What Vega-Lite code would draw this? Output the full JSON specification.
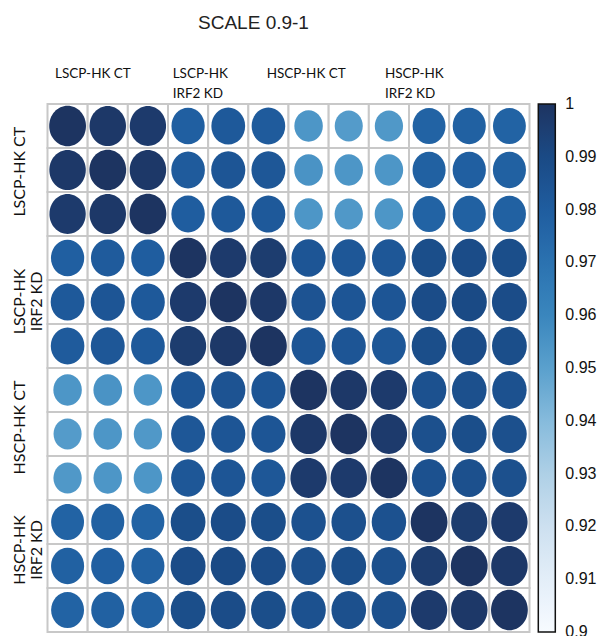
{
  "$schema": "https://vega.github.io/schema/vega-lite/v6.json",
  "width": 482,
  "height": 528,
  "autosize": {"type": "none"},
  "padding": {"left": 47.5, "top": 104, "right": 70.5, "bottom": 4},
  "background": "white",
  "title": {
    "text": "SCALE 0.9-1",
    "font": "Liberation Sans",
    "fontSize": 19,
    "fontWeight": "normal",
    "color": "#222222",
    "anchor": "middle",
    "frame": "group",
    "dx": -35,
    "offset": 34
  },
  "data": {
    "values": [
      {"r": "A1", "c": "A1", "v": 1}, {"r": "A1", "c": "A2", "v": 0.998}, {"r": "A1", "c": "A3", "v": 0.997},
      {"r": "A1", "c": "B1", "v": 0.979}, {"r": "A1", "c": "B2", "v": 0.982}, {"r": "A1", "c": "B3", "v": 0.981},
      {"r": "A1", "c": "C1", "v": 0.954}, {"r": "A1", "c": "C2", "v": 0.952}, {"r": "A1", "c": "C3", "v": 0.953},
      {"r": "A1", "c": "D1", "v": 0.977}, {"r": "A1", "c": "D2", "v": 0.978}, {"r": "A1", "c": "D3", "v": 0.977},

      {"r": "A2", "c": "A1", "v": 0.998}, {"r": "A2", "c": "A2", "v": 1}, {"r": "A2", "c": "A3", "v": 0.998},
      {"r": "A2", "c": "B1", "v": 0.981}, {"r": "A2", "c": "B2", "v": 0.984}, {"r": "A2", "c": "B3", "v": 0.983},
      {"r": "A2", "c": "C1", "v": 0.955}, {"r": "A2", "c": "C2", "v": 0.954}, {"r": "A2", "c": "C3", "v": 0.954},
      {"r": "A2", "c": "D1", "v": 0.978}, {"r": "A2", "c": "D2", "v": 0.979}, {"r": "A2", "c": "D3", "v": 0.978},

      {"r": "A3", "c": "A1", "v": 0.997}, {"r": "A3", "c": "A2", "v": 0.998}, {"r": "A3", "c": "A3", "v": 1},
      {"r": "A3", "c": "B1", "v": 0.980}, {"r": "A3", "c": "B2", "v": 0.982}, {"r": "A3", "c": "B3", "v": 0.982},
      {"r": "A3", "c": "C1", "v": 0.954}, {"r": "A3", "c": "C2", "v": 0.953}, {"r": "A3", "c": "C3", "v": 0.954},
      {"r": "A3", "c": "D1", "v": 0.977}, {"r": "A3", "c": "D2", "v": 0.978}, {"r": "A3", "c": "D3", "v": 0.978},

      {"r": "B1", "c": "A1", "v": 0.979}, {"r": "B1", "c": "A2", "v": 0.981}, {"r": "B1", "c": "A3", "v": 0.980},
      {"r": "B1", "c": "B1", "v": 1}, {"r": "B1", "c": "B2", "v": 0.997}, {"r": "B1", "c": "B3", "v": 0.996},
      {"r": "B1", "c": "C1", "v": 0.984}, {"r": "B1", "c": "C2", "v": 0.983}, {"r": "B1", "c": "C3", "v": 0.983},
      {"r": "B1", "c": "D1", "v": 0.988}, {"r": "B1", "c": "D2", "v": 0.989}, {"r": "B1", "c": "D3", "v": 0.988},

      {"r": "B2", "c": "A1", "v": 0.982}, {"r": "B2", "c": "A2", "v": 0.984}, {"r": "B2", "c": "A3", "v": 0.982},
      {"r": "B2", "c": "B1", "v": 0.997}, {"r": "B2", "c": "B2", "v": 1}, {"r": "B2", "c": "B3", "v": 0.998},
      {"r": "B2", "c": "C1", "v": 0.985}, {"r": "B2", "c": "C2", "v": 0.984}, {"r": "B2", "c": "C3", "v": 0.984},
      {"r": "B2", "c": "D1", "v": 0.989}, {"r": "B2", "c": "D2", "v": 0.990}, {"r": "B2", "c": "D3", "v": 0.989},

      {"r": "B3", "c": "A1", "v": 0.981}, {"r": "B3", "c": "A2", "v": 0.983}, {"r": "B3", "c": "A3", "v": 0.982},
      {"r": "B3", "c": "B1", "v": 0.996}, {"r": "B3", "c": "B2", "v": 0.998}, {"r": "B3", "c": "B3", "v": 1},
      {"r": "B3", "c": "C1", "v": 0.984}, {"r": "B3", "c": "C2", "v": 0.984}, {"r": "B3", "c": "C3", "v": 0.983},
      {"r": "B3", "c": "D1", "v": 0.988}, {"r": "B3", "c": "D2", "v": 0.989}, {"r": "B3", "c": "D3", "v": 0.988},

      {"r": "C1", "c": "A1", "v": 0.954}, {"r": "C1", "c": "A2", "v": 0.955}, {"r": "C1", "c": "A3", "v": 0.954},
      {"r": "C1", "c": "B1", "v": 0.984}, {"r": "C1", "c": "B2", "v": 0.985}, {"r": "C1", "c": "B3", "v": 0.984},
      {"r": "C1", "c": "C1", "v": 1}, {"r": "C1", "c": "C2", "v": 0.998}, {"r": "C1", "c": "C3", "v": 0.997},
      {"r": "C1", "c": "D1", "v": 0.986}, {"r": "C1", "c": "D2", "v": 0.987}, {"r": "C1", "c": "D3", "v": 0.986},

      {"r": "C2", "c": "A1", "v": 0.952}, {"r": "C2", "c": "A2", "v": 0.954}, {"r": "C2", "c": "A3", "v": 0.953},
      {"r": "C2", "c": "B1", "v": 0.983}, {"r": "C2", "c": "B2", "v": 0.984}, {"r": "C2", "c": "B3", "v": 0.984},
      {"r": "C2", "c": "C1", "v": 0.998}, {"r": "C2", "c": "C2", "v": 1}, {"r": "C2", "c": "C3", "v": 0.997},
      {"r": "C2", "c": "D1", "v": 0.987}, {"r": "C2", "c": "D2", "v": 0.988}, {"r": "C2", "c": "D3", "v": 0.987},

      {"r": "C3", "c": "A1", "v": 0.953}, {"r": "C3", "c": "A2", "v": 0.954}, {"r": "C3", "c": "A3", "v": 0.954},
      {"r": "C3", "c": "B1", "v": 0.983}, {"r": "C3", "c": "B2", "v": 0.984}, {"r": "C3", "c": "B3", "v": 0.983},
      {"r": "C3", "c": "C1", "v": 0.997}, {"r": "C3", "c": "C2", "v": 0.997}, {"r": "C3", "c": "C3", "v": 1},
      {"r": "C3", "c": "D1", "v": 0.986}, {"r": "C3", "c": "D2", "v": 0.987}, {"r": "C3", "c": "D3", "v": 0.987},

      {"r": "D1", "c": "A1", "v": 0.977}, {"r": "D1", "c": "A2", "v": 0.978}, {"r": "D1", "c": "A3", "v": 0.977},
      {"r": "D1", "c": "B1", "v": 0.988}, {"r": "D1", "c": "B2", "v": 0.989}, {"r": "D1", "c": "B3", "v": 0.988},
      {"r": "D1", "c": "C1", "v": 0.986}, {"r": "D1", "c": "C2", "v": 0.987}, {"r": "D1", "c": "C3", "v": 0.986},
      {"r": "D1", "c": "D1", "v": 1}, {"r": "D1", "c": "D2", "v": 0.996}, {"r": "D1", "c": "D3", "v": 0.997},

      {"r": "D2", "c": "A1", "v": 0.978}, {"r": "D2", "c": "A2", "v": 0.979}, {"r": "D2", "c": "A3", "v": 0.978},
      {"r": "D2", "c": "B1", "v": 0.989}, {"r": "D2", "c": "B2", "v": 0.990}, {"r": "D2", "c": "B3", "v": 0.989},
      {"r": "D2", "c": "C1", "v": 0.987}, {"r": "D2", "c": "C2", "v": 0.988}, {"r": "D2", "c": "C3", "v": 0.987},
      {"r": "D2", "c": "D1", "v": 0.996}, {"r": "D2", "c": "D2", "v": 1}, {"r": "D2", "c": "D3", "v": 0.998},

      {"r": "D3", "c": "A1", "v": 0.977}, {"r": "D3", "c": "A2", "v": 0.978}, {"r": "D3", "c": "A3", "v": 0.978},
      {"r": "D3", "c": "B1", "v": 0.988}, {"r": "D3", "c": "B2", "v": 0.989}, {"r": "D3", "c": "B3", "v": 0.988},
      {"r": "D3", "c": "C1", "v": 0.986}, {"r": "D3", "c": "C2", "v": 0.987}, {"r": "D3", "c": "C3", "v": 0.987},
      {"r": "D3", "c": "D1", "v": 0.997}, {"r": "D3", "c": "D2", "v": 0.998}, {"r": "D3", "c": "D3", "v": 1}
    ]
  },
  "encoding": {
    "x": {
      "field": "c",
      "type": "nominal",
      "sort": ["A1", "A2", "A3", "B1", "B2", "B3", "C1", "C2", "C3", "D1", "D2", "D3"],
      "scale": {"type": "band", "paddingInner": 0, "paddingOuter": 0},
      "axis": {
        "orient": "top",
        "title": null,
        "ticks": false,
        "domain": false,
        "grid": false,
        "labelAngle": 0,
        "labelAlign": "left",
        "labelBaseline": "top",
        "labelPadding": 37.5,
        "labelFont": "Lato",
        "labelFontSize": 13.5,
        "labelColor": "#111111",
        "labelLineHeight": 20,
        "labelOverlap": false,
        "labelFlush": false,
        "labelExpr": "datum.value == 'A2' ? 'LSCP-HK CT' : datum.value == 'B2' ? ['LSCP-HK', 'IRF2 KD'] : datum.value == 'C2' ? 'HSCP-HK CT' : datum.value == 'D2' ? ['HSCP-HK', 'IRF2 KD'] : ''",
        "labelOffset": {
          "condition": [
            {"test": "datum.value == 'A2'", "value": -52.7},
            {"test": "datum.value == 'B2'", "value": -55.6},
            {"test": "datum.value == 'C2'", "value": -82.1}
          ],
          "value": -84.3
        }
      }
    },
    "y": {
      "field": "r",
      "type": "nominal",
      "sort": ["A1", "A2", "A3", "B1", "B2", "B3", "C1", "C2", "C3", "D1", "D2", "D3"],
      "scale": {"type": "band", "paddingInner": 0, "paddingOuter": 0},
      "axis": {
        "title": null,
        "ticks": false,
        "domain": false,
        "grid": false,
        "labelAngle": -90,
        "labelAlign": "center",
        "labelBaseline": "top",
        "labelPadding": 36.5,
        "labelFont": "Lato",
        "labelFontSize": 16,
        "labelColor": "#111111",
        "labelLineHeight": 17,
        "labelOverlap": false,
        "labelFlush": false,
        "labelExpr": "datum.value == 'A2' ? 'LSCP-HK CT' : datum.value == 'B2' ? ['LSCP-HK', 'IRF2 KD'] : datum.value == 'C2' ? 'HSCP-HK CT' : datum.value == 'D2' ? ['HSCP-HK', 'IRF2 KD'] : ''",
        "labelOffset": {
          "condition": [
            {"test": "datum.value == 'A2'", "value": 1.7},
            {"test": "datum.value == 'B2'", "value": -0.5},
            {"test": "datum.value == 'C2'", "value": -6.5}
          ],
          "value": -16
        }
      }
    }
  },
  "layer": [
    {
      "mark": {"type": "rect", "fill": "white", "stroke": "#c8c8c8", "strokeWidth": 2}
    },
    {
      "mark": {
        "type": "point",
        "filled": true,
        "opacity": 1,
        "strokeWidth": 0,
        "shape": "M-1,0A1,1.1,0,1,1,1,0A1,1.1,0,1,1,-1,0Z"
      },
      "encoding": {
        "color": {
          "field": "v",
          "type": "quantitative",
          "scale": {
            "domain": [0.9, 0.91, 0.92, 0.93, 0.94, 0.95, 0.96, 0.97, 0.98, 0.99, 1],
            "range": ["#f7fbff", "#e3eef8", "#cde0f0", "#aed0e6", "#86bbdc", "#5aa0cd", "#3a86bd", "#2b72b0", "#1f5d9f", "#1a4a85", "#1d3461"]
          },
          "legend": {
            "orient": "none",
            "legendX": 490.8,
            "legendY": 0,
            "direction": "vertical",
            "title": null,
            "padding": 0,
            "gradientLength": 528,
            "gradientThickness": 17,
            "gradientStrokeColor": "#111111",
            "gradientStrokeWidth": 1.5,
            "values": [0.9000001, 0.91, 0.92, 0.93, 0.94, 0.95, 0.96, 0.97, 0.98, 0.99, 0.9999999],
            "format": ".2~f",
            "labelFont": "Liberation Sans",
            "labelFontSize": 16,
            "labelColor": "#111111",
            "labelOffset": 10,
            "labelOverlap": false
          }
        },
        "size": {
          "field": "v",
          "type": "quantitative",
          "scale": {"domain": [0.9, 1], "range": [176, 1354], "zero": false},
          "legend": null
        }
      }
    }
  ],
  "config": {"view": {"stroke": null}}
}
